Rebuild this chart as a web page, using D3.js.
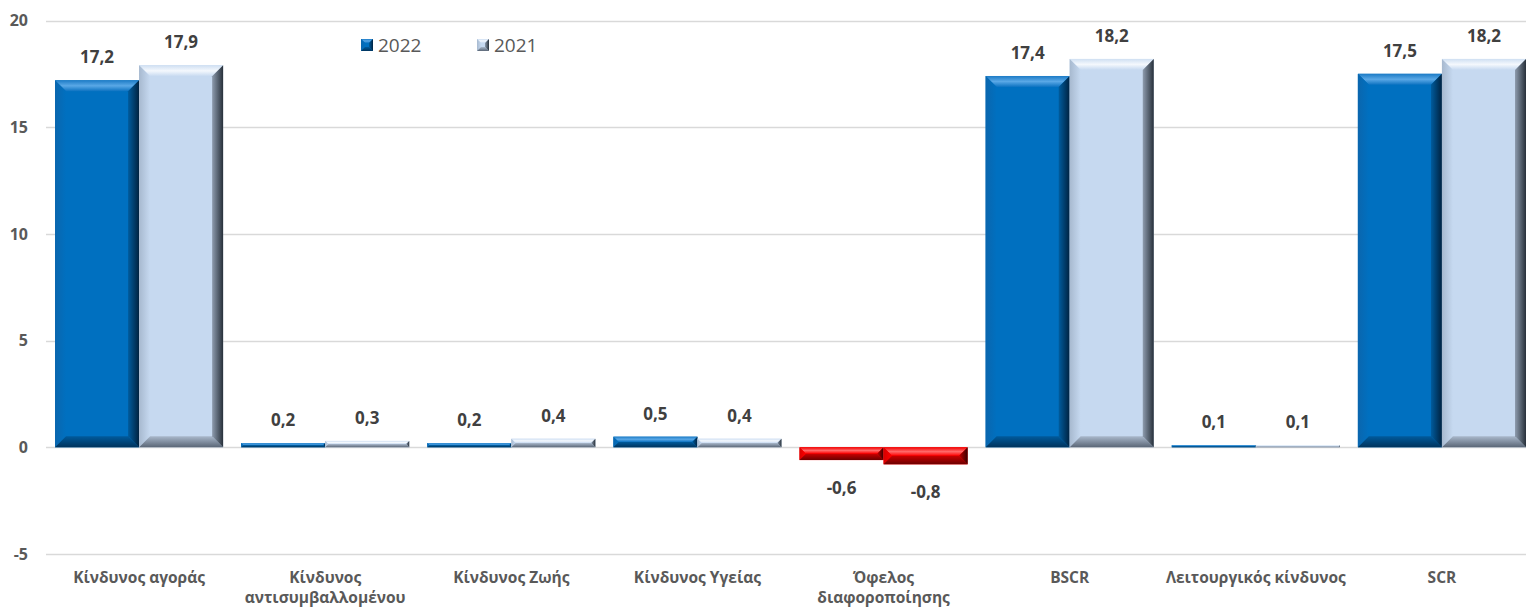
<!DOCTYPE html>
<html><head><meta charset="utf-8">
<script src="https://cdn.jsdelivr.net/npm/d3@7"></script>
<style>body{margin:0;background:#fff}svg{display:block}</style>
</head><body>
<script>
const categories = ["Κίνδυνος αγοράς","Κίνδυνος αντισυμβαλλομένου","Κίνδυνος Ζωής","Κίνδυνος Υγείας","Όφελος διαφοροποίησης","BSCR","Λειτουργικός κίνδυνος","SCR"];
const seriesNames = ["2022","2021"];
const values2022 = [17.2,0.2,0.2,0.5,-0.6,17.4,0.1,17.5];
const values2021 = [17.9,0.3,0.4,0.4,-0.8,18.2,0.1,18.2];
const yTicks = [-5,0,5,10,15,20];

const W=1526,H=608;
const svg=d3.select("body").append("svg").attr("width",W).attr("height",H);
const defs=svg.append("defs");

const x=d3.scaleBand().domain(categories).range([46,1535]).padding(0);
const xs=d3.scaleBand().domain(seriesNames).range([9,x.bandwidth()-9]).padding(0);
const y=d3.scaleLinear().domain([-5,20]).range([554,20.5]);

const palette={
  "2022":{id:"b",base:"#0070C0",top:["#1C7BC6","#5AA8E6","#0C72C1"],left:["#0A66AE","#0070C0"],right:["#005C9E","#002240"],bottom:["#005A9C","#00335C"]},
  "2021":{id:"l",base:"#C6D9F0",top:["#CFDFF2","#F4F8FD","#C6D9F0"],left:["#A7B9CF","#C6D9F0"],right:["#8E9CAE","#27303A"],bottom:["#A9B8CB","#5A6676"]},
  "neg":{id:"r",base:"#FF0000",top:["#F20000","#FF6A6A","#FF0000"],left:["#D80000","#FF0000"],right:["#C00000","#3A0000"],bottom:["#C80000","#6A0000"]}
};
function grad(id,stops,x2,y2){
  const g=defs.append("linearGradient").attr("id",id).attr("x1",0).attr("y1",0).attr("x2",x2).attr("y2",y2);
  stops.forEach((s,i)=>g.append("stop").attr("offset",i/(stops.length-1)).attr("stop-color",s));
}
Object.values(palette).forEach(c=>{
  grad(c.id+"t",c.top,0,1);
  grad(c.id+"l",c.left,1,0);
  grad(c.id+"r",c.right,1,0);
  grad(c.id+"b",c.bottom,0,1);
});

// grid
const grid=svg.append("g");
grid.selectAll("line").data(yTicks).join("line")
  .attr("x1",46).attr("x2",1535).attr("y1",d=>Math.round(y(d))+0.5).attr("y2",d=>Math.round(y(d))+0.5)
  .attr("stroke","#D9D9D9").attr("stroke-width",1.3);

// y axis labels
const yAxis=d3.axisLeft(y).tickValues(yTicks).tickSize(0).tickPadding(0)
  .tickFormat(d=>String(d));
const ya=svg.append("g").attr("transform","translate(28,0)").call(yAxis);
ya.select(".domain").remove();
ya.selectAll("text").attr("font-family","'Open Sans',sans-serif").attr("font-weight","bold")
  .attr("font-size",16).attr("fill","#595959");

function bevelBar(g,x0,y0,w,h,c,bmax){
  const b=Math.min(bmax,h/2,w/2);
  g.append("rect").attr("x",x0).attr("y",y0).attr("width",w).attr("height",h).attr("fill",c.base);
  const P=pts=>pts.map(p=>p.join(",")).join(" ");
  g.append("polygon").attr("points",P([[x0,y0],[x0+w,y0],[x0+w-b,y0+b],[x0+b,y0+b]])).attr("fill",`url(#${c.id}t)`);
  g.append("polygon").attr("points",P([[x0,y0],[x0+b,y0+b],[x0+b,y0+h-b],[x0,y0+h]])).attr("fill",`url(#${c.id}l)`);
  g.append("polygon").attr("points",P([[x0,y0+h],[x0+b,y0+h-b],[x0+w-b,y0+h-b],[x0+w,y0+h]])).attr("fill",`url(#${c.id}b)`);
  g.append("polygon").attr("points",P([[x0+w-b,y0+b],[x0+w,y0],[x0+w,y0+h],[x0+w-b,y0+h-b]])).attr("fill",`url(#${c.id}r)`);
}

const data=categories.map((c,i)=>({cat:c,vals:[{s:"2022",v:values2022[i]},{s:"2021",v:values2021[i]}]}));
const bars=svg.append("g");
const labels=svg.append("g");
data.forEach(d=>{
  d.vals.forEach(e=>{
    const bx=x(d.cat)+xs(e.s), bw=xs.bandwidth();
    const y0=Math.min(y(0),y(e.v)), h=Math.abs(y(e.v)-y(0));
    const c=e.v<0?palette.neg:palette[e.s];
    bevelBar(bars.append("g"),bx,y0,bw,h,c,11);
    labels.append("text").attr("x",bx+bw/2)
      .attr("y",e.v>=0?y(e.v)-17:y(e.v)+34)
      .attr("text-anchor","middle").attr("font-family","'Open Sans',sans-serif")
      .attr("font-weight","bold").attr("font-size",17).attr("fill","#404040")
      .text(e.v.toFixed(1).replace(".",","));
  });
});

// category labels with wrapping
const xa=svg.append("g");
const catFont=15.5;
function wrapLines(text,maxW,meas){
  const words=text.split(" ");let lines=[],cur="";
  words.forEach(w=>{const t=cur?cur+" "+w:w; meas.text(t); if(meas.node().getComputedTextLength()>maxW&&cur){lines.push(cur);cur=w;} else cur=t;});
  lines.push(cur);return lines;
}
const meas=svg.append("text").attr("font-family","'Open Sans',sans-serif").attr("font-weight","bold").attr("font-size",catFont).attr("opacity",0);
categories.forEach(c=>{
  const lines=wrapLines(c,180,meas);
  const t=xa.append("text").attr("x",x(c)+x.bandwidth()/2).attr("y",583)
    .attr("text-anchor","middle").attr("font-family","'Open Sans',sans-serif")
    .attr("font-weight","bold").attr("font-size",catFont).attr("fill","#595959");
  lines.forEach((l,i)=>t.append("tspan").attr("x",x(c)+x.bandwidth()/2).attr("dy",i?19.5:0).text(l));
});
meas.remove();

// legend
const legX=[361,477];
const lg=svg.append("g");
seriesNames.forEach((s,i)=>{
  bevelBar(lg.append("g"),legX[i],39,12,12,palette[s],4);
  lg.append("text").attr("x",legX[i]+17).attr("y",52).attr("font-family","'Open Sans',sans-serif")
    .attr("font-size",19).attr("fill","#595959").text(s);
});
</script>
</body></html>
